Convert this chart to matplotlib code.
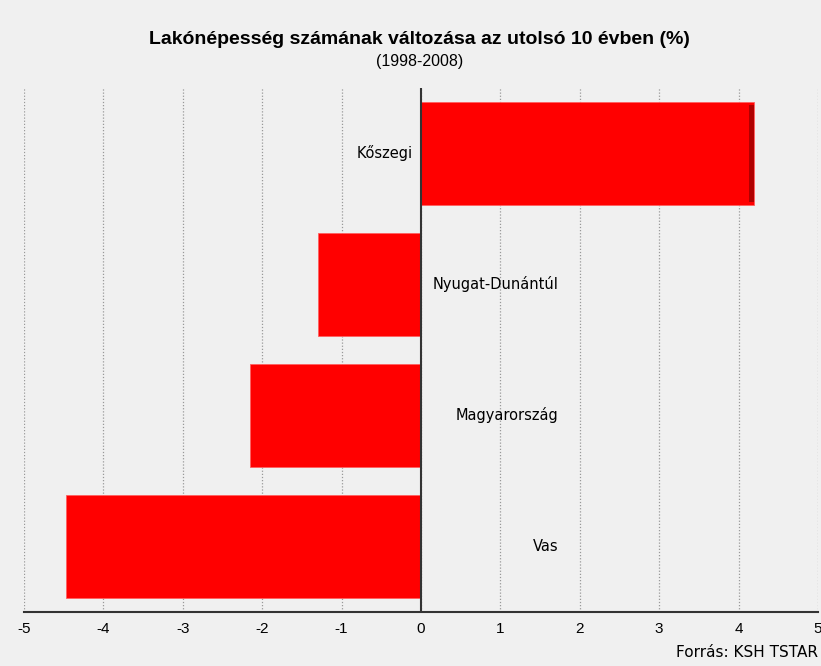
from matplotlib import pyplot as plt
import numpy as np

# data
categories = ['Kőszegi', 'Nyugat-Dunántúl', 'Magyarország', 'Vas']
values = [4.2, -1.3, -2.15, -4.47]
xticks = [-5, -4, -3, -2, -1, 0, 1, 2, 3, 4, 5]

bg = '#f0f0f0'
fig = plt.figure(figsize=(8.21, 6.66), dpi=100, facecolor=bg)
ax = fig.add_axes([0.0292, 0.0811, 0.9671, 0.7869], facecolor=bg)

ypos = np.arange(len(categories))
ax.barh(ypos, values, height=0.78, color='#ff0000', edgecolor='#ff6060',
        linewidth=0.6, zorder=3)
# darker side edge for the positive bar (3d look)
for y, v in zip(ypos, values):
    if v > 0:
        ax.barh(y, 0.07, left=v - 0.07, height=0.74, color='#b00000', zorder=4)

ax.set_xlim(-5, 5)
ax.set_ylim(len(categories) - 0.5, -0.5)
ax.set_xticks(xticks)
ax.set_xticklabels([str(t) for t in xticks], family='Liberation Sans', fontsize=11)
ax.set_yticks([])
ax.tick_params(axis='x', length=0, pad=7)
ax.grid(axis='x', color='#999999', linestyle=(0, (1, 1.5)), linewidth=0.9, zorder=0)
ax.axvline(0, color='#333333', linewidth=1.5, zorder=5)

for s in ['top', 'right', 'left']:
    ax.spines[s].set_visible(False)
ax.spines['bottom'].set_color('#333333')
ax.spines['bottom'].set_linewidth(1.5)

# category labels on the opposite side of the bar
for y, v, name in zip(ypos, values, categories):
    if v > 0:
        ax.text(-0.1, y, name, ha='right', va='center', fontsize=10.5, zorder=6)
    else:
        ax.text(1.73, y, name, ha='right', va='center', fontsize=10.5, zorder=6)

fig.text(0.511, 0.94, 'Lakónépesség számának változása az utolsó 10 évben (%)',
         ha='center', va='center', fontsize=14, fontweight='bold',
         family='Liberation Sans')
fig.text(0.511, 0.907, '(1998-2008)', ha='center', va='center', fontsize=11.5,
         family='Liberation Sans')
fig.text(0.996, 0.021, 'Forrás: KSH TSTAR', ha='right', va='center',
         fontsize=11)

plt.savefig('out.png', dpi=100, facecolor=bg)
